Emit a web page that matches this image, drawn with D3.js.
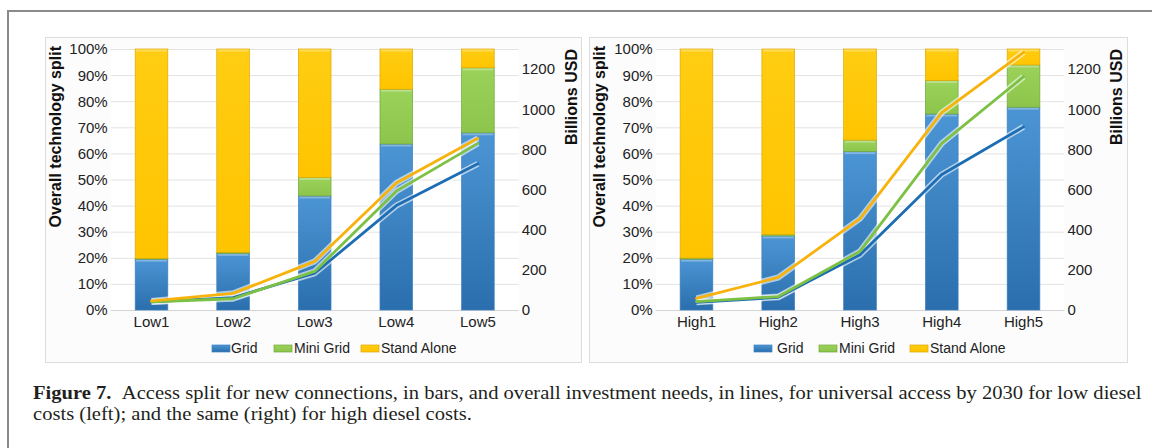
<!DOCTYPE html>
<html lang="en">
<head>
<meta charset="UTF-8">
<title>Figure 7</title>
<script src="https://cdn.jsdelivr.net/npm/d3@7"></script>
<style>
    body { margin: 0; background: #ffffff; }
    svg { display: block; }
    .tick-label { font-family: Arial, 'Liberation Sans', sans-serif; font-size: 15px; fill: #222; }
    .axis-title { font-family: Arial, 'Liberation Sans', sans-serif; font-size: 16px; font-weight: bold; fill: #111; }
    .legend-label { font-family: Arial, 'Liberation Sans', sans-serif; font-size: 14px; fill: #222; }
    .caption { font-family: 'Liberation Serif', 'Times New Roman', serif; font-size: 18.5px; fill: #231f20; }
</style>
</head>
<body>
<div id="chart"></div>
<script>
    // ---------- data ----------
    const lowCats = ["Low1", "Low2", "Low3", "Low4", "Low5"];
    const highCats = ["High1", "High2", "High3", "High4", "High5"];

    // technology split, percent of new connections
    const lowGrid = [19.5, 21.7, 43.7, 63.6, 67.9];
    const lowMini = [0.3, 0.4, 7.1, 21.0, 24.9];
    const lowStand = [80.2, 77.9, 49.2, 15.4, 7.2];

    const highGrid = [19.5, 28.4, 60.7, 75.1, 77.7];
    const highMini = [0.4, 0.5, 4.4, 12.8, 16.2];
    const highStand = [80.1, 71.1, 34.9, 12.1, 6.1];

    // overall investment needs, billions USD
    const lowCostGrid = [40, 62, 183, 520, 728];
    const lowCostMini = [41, 56, 192, 592, 830];
    const lowCostStand = [45, 83, 242, 633, 855];

    const highCostGrid = [38, 63, 275, 675, 912];
    const highCostMini = [42, 67, 292, 830, 1162];
    const highCostStand = [58, 162, 455, 983, 1283];

    const pctTicks = [0, 10, 20, 30, 40, 50, 60, 70, 80, 90, 100];
    const usdTicks = [0, 200, 400, 600, 800, 1000, 1200];
    const seriesNames = ["Grid", "Mini Grid", "Stand Alone"];

    const captionLine1 = "Access split for new connections, in bars, and overall investment needs, in lines, for universal access by 2030 for low diesel";
    const captionLine2 = "costs (left); and the same (right) for high diesel costs.";

    // ---------- page ----------
    const width = 1152, height = 448;
    const svg = d3.select("#chart").append("svg").attr("width", width).attr("height", height);
    const defs = svg.append("defs");

    function gradient(id, top, bottom) {
        const g = defs.append("linearGradient").attr("id", id)
            .attr("x1", 0).attr("y1", 0).attr("x2", 0).attr("y2", 1);
        g.append("stop").attr("offset", "0%").attr("stop-color", top);
        g.append("stop").attr("offset", "100%").attr("stop-color", bottom);
    }
    gradient("gBlue", "#4c95d4", "#2a6ead");
    gradient("gGreen", "#9bd25a", "#8cc44c");
    gradient("gYellow", "#ffcd12", "#ffc400");

    const barFill = ["url(#gBlue)", "url(#gGreen)", "url(#gYellow)"];
    const barStroke = ["#3f82c2", "#6ea83a", "#e0a800"];
    const lineColor = ["#1c6db4", "#7cc144", "#f7b20c"];

    // outer frame (open on right and bottom)
    svg.append("path")
        .attr("d", `M8,${height} L8,11 L${width},11`)
        .attr("fill", "none").attr("stroke", "#8a8a8a").attr("stroke-width", 2);

    function drawPanel(p) {
        // panel box
        svg.append("rect")
            .attr("x", p.box[0] + 0.5).attr("y", 37.5)
            .attr("width", p.box[1] - p.box[0]).attr("height", 325)
            .attr("fill", "#fcfcfd").attr("stroke", "#dcdcdc");

        const x = d3.scaleBand().domain(p.cats).range([p.x0, p.x1])
            .paddingInner(0.6).paddingOuter(0.3);
        const yPct = d3.scaleLinear().domain([0, 100]).range([310, 49]);
        const yUsd = d3.scaleLinear().domain([0, 1300]).range([310, 49]);

        const g = svg.append("g");

        // plot background + gridlines
        g.append("rect").attr("x", p.x0).attr("y", 49).attr("width", p.x1 - p.x0).attr("height", 261)
            .attr("fill", "#ffffff");
        g.selectAll(".grid").data(pctTicks).enter().append("line")
            .attr("x1", p.x0).attr("x2", p.x1)
            .attr("y1", d => yPct(d) + 0.5).attr("y2", d => yPct(d) + 0.5)
            .attr("stroke", d => d === 0 ? "#d4d4d4" : "#e3e3e3").attr("stroke-width", 1);

        // left axis labels
        g.selectAll(".pct").data(pctTicks).enter().append("text")
            .attr("class", "tick-label")
            .attr("x", p.x0 - 3).attr("y", d => yPct(d)).attr("dy", "0.36em")
            .attr("text-anchor", "end").text(d => d + "%");

        // right axis labels
        g.selectAll(".usd").data(usdTicks).enter().append("text")
            .attr("class", "tick-label")
            .attr("x", p.x1 + 3).attr("y", d => yUsd(d)).attr("dy", "0.36em")
            .attr("text-anchor", "start").text(d => d);

        // category labels
        g.selectAll(".cat").data(p.cats).enter().append("text")
            .attr("class", "tick-label")
            .attr("x", d => x(d) + x.bandwidth() / 2).attr("y", 327)
            .attr("text-anchor", "middle").text(d => d);

        // axis titles
        g.append("text").attr("class", "axis-title")
            .attr("transform", `translate(${p.titleL},46) rotate(-90)`)
            .attr("dy", "0.35em").attr("text-anchor", "end").text("Overall technology split");
        g.append("text").attr("class", "axis-title")
            .attr("transform", `translate(${p.titleR},49) rotate(-90)`)
            .attr("dy", "0.35em").attr("text-anchor", "end").text("Billions USD");

        // stacked bars
        const rows = p.cats.map((c, i) => ({ cat: c, Grid: p.split[0][i], Mini: p.split[1][i], Stand: p.split[2][i] }));
        const stack = d3.stack().keys(["Grid", "Mini", "Stand"])(rows);
        stack.forEach((layer, k) => {
            g.selectAll(null).data(layer).enter().append("rect")
                .attr("x", d => x(d.data.cat))
                .attr("width", x.bandwidth())
                .attr("y", d => yPct(Math.min(d[1], 100)))
                .attr("height", d => Math.max(0, yPct(d[0]) - yPct(Math.min(d[1], 100))))
                .attr("fill", barFill[k])
                .attr("stroke", barStroke[k]).attr("stroke-width", 0.7);
            // light top edge on each segment
            g.selectAll(null).data(layer.filter(d => d[1] - d[0] > 1)).enter().append("rect")
                .attr("x", d => x(d.data.cat) + 1)
                .attr("width", x.bandwidth() - 2)
                .attr("y", d => yPct(Math.min(d[1], 100)) + 0.5)
                .attr("height", 2)
                .attr("fill", "#ffffff").attr("opacity", 0.3);
        });

        // investment lines
        const line = d3.line().x((d, i) => x(p.cats[i]) + x.bandwidth() / 2).y(d => yUsd(d));
        p.cost.forEach(s => {
            g.append("path").attr("d", line(s)).attr("fill", "none")
                .attr("stroke", "#ffffff").attr("stroke-opacity", 0.6).attr("stroke-width", 6)
                .attr("stroke-linejoin", "round");
        });
        p.cost.forEach((s, k) => {
            g.append("path").attr("d", line(s)).attr("fill", "none")
                .attr("stroke", lineColor[k]).attr("stroke-width", 2.8)
                .attr("stroke-linejoin", "round").attr("stroke-linecap", "round");
        });

        // legend: swatch x and label x for each entry
        seriesNames.forEach((name, k) => {
            g.append("rect").attr("x", p.legend[k][0]).attr("y", 345).attr("width", 18).attr("height", 7)
                .attr("fill", barFill[k]).attr("stroke", barStroke[k]).attr("stroke-width", 0.7);
            g.append("text").attr("class", "legend-label")
                .attr("x", p.legend[k][1]).attr("y", 348.5).attr("dy", "0.35em").text(name);
        });
    }

    drawPanel({
        box: [45, 581], cats: lowCats, x0: 110.7, x1: 518.7, titleL: 55, titleR: 571,
        split: [lowGrid, lowMini, lowStand],
        cost: [lowCostGrid, lowCostMini, lowCostStand],
        legend: [[212, 231], [274, 294], [361, 381]]
    });
    drawPanel({
        box: [589, 1127], cats: highCats, x0: 655.6, x1: 1064.4, titleL: 599, titleR: 1116,
        split: [highGrid, highMini, highStand],
        cost: [highCostGrid, highCostMini, highCostStand],
        legend: [[754, 777], [819, 839], [910, 930]]
    });

    // caption
    const cap = svg.append("g");
    const c1 = cap.append("text").attr("class", "caption").attr("x", 0).attr("y", 0);
    c1.append("tspan").attr("font-weight", "bold").text("Figure 7.");
    c1.append("tspan").text("\u00a0\u00a0" + captionLine1);
    const natural = c1.node().getComputedTextLength();
    const sx = 1109 / natural;
    c1.attr("transform", `translate(33,399) scale(${sx},1)`);
    cap.append("text").attr("class", "caption")
        .attr("transform", `translate(33,420) scale(${sx},1)`)
        .text(captionLine2);
</script>
</body>
</html>
